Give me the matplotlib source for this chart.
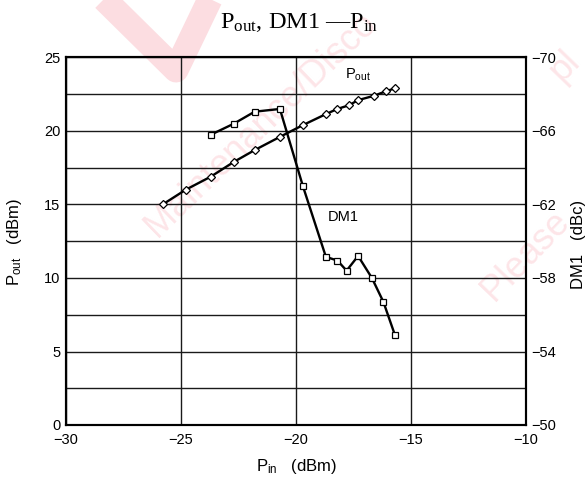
import numpy as np
import matplotlib
matplotlib.use("Agg")
import matplotlib.pyplot as plt
from matplotlib.lines import Line2D

plt.rcParams['font.family'] = ['Liberation Sans', 'DejaVu Sans']
plt.rcParams['mathtext.fontset'] = 'custom'
plt.rcParams['mathtext.rm'] = 'Liberation Serif'
plt.rcParams['mathtext.sf'] = 'Liberation Sans'

# data
pin_pout = [-25.8, -24.8, -23.7, -22.7, -21.8, -20.7, -19.7, -18.7, -18.2,
            -17.7, -17.3, -16.6, -16.1, -15.7]
pout = [15.0, 16.0, 16.9, 17.9, 18.7, 19.6, 20.4, 21.15, 21.5, 21.75,
        22.1, 22.4, 22.7, 22.9]

pin_dm1 = [-23.7, -22.7, -21.8, -20.7, -19.7, -18.7, -18.2, -17.8, -17.3,
           -16.7, -16.2, -15.7]
dm1 = [-65.8, -66.4, -67.05, -67.2, -63.0, -59.15, -58.95, -58.4, -59.2,
       -58.0, -56.7, -54.9]

x_ticks = [-30, -25, -20, -15, -10]
left_ticks = [0, 5, 10, 15, 20, 25]
right_ticks = [-70, -66, -62, -58, -54, -50]

W, H = 586, 483
fig = plt.figure(figsize=(W / 100, H / 100), dpi=100)

# faint watermark behind the chart
wm = '#fde5e8'
fig.add_artist(Line2D(np.array([100, 176, 212]) / W, 1 - np.array([-5, 70, -5]) / H,
                      transform=fig.transFigure, color='#fcdde1', lw=18,
                      solid_joinstyle='round', solid_capstyle='butt', zorder=-2))
fig.text(157 / W, 1 - 238 / H, 'Maintenance/Disco', rotation=44,
         rotation_mode='anchor', ha='left', va='baseline', fontsize=26,
         color=wm, zorder=-2)
fig.text(494 / W, 1 - 302 / H, 'Please', rotation=46, rotation_mode='anchor',
         ha='left', va='baseline', fontsize=26, color=wm, zorder=-2)
fig.text(562 / W, 1 - 82 / H, 'pl', rotation=46, rotation_mode='anchor',
         ha='left', va='baseline', fontsize=26, color=wm, zorder=-2)

ax = fig.add_axes([66 / W, 1 - 425 / H, 460 / W, 367.5 / H])
ax.set_facecolor('none')
ax.set_xlim(-30, -10)
ax.set_ylim(0, 25)
ax.set_xticks(x_ticks)
ax.set_yticks(left_ticks)
ax.set_yticks(np.arange(2.5, 25, 5), minor=True)
ax.xaxis.set_major_formatter(plt.FuncFormatter(lambda v, p: f'{v:.0f}'.replace('-', '\u2212')))
ax.tick_params(length=0, labelsize=10.5, pad=4)
ax.tick_params(axis='x', pad=6)
ax.tick_params(which='minor', length=0)
ax.grid(True, which='both', color='#1a1a1a', lw=1.0)
for s in ax.spines.values():
    s.set_linewidth(1.5)

ax.plot(pin_pout, pout, color='black', lw=1.7, marker='D', ms=3.6,
        mfc='white', mec='black', mew=0.9, zorder=4, clip_on=False)
ax.text(-17.3, 23.8, r'$\mathsf{P_{out}}$', fontsize=10.5, ha='center', va='center')

ax2 = ax.twinx()
ax2.set_ylim(-50, -70)
ax2.set_yticks(right_ticks)
ax2.tick_params(length=0, labelsize=10.5, pad=4)
for s in ax2.spines.values():
    s.set_linewidth(1.5)
ax2.plot(pin_dm1, dm1, color='black', lw=1.7, marker='s', ms=5.0,
         mfc='white', mec='black', mew=0.9, zorder=4)
ax2.text(-17.95, -61.3, 'DM1', fontsize=10.5, ha='center', va='center')

fig.text(299.5 / W, 1 - 23 / H, r'$\mathrm{P_{out}}$, DM1 ' + '\u2014' + r'$\mathrm{P_{in}}$',
         family='Liberation Serif', fontsize=17.5, ha='center', va='center')
fig.text(296 / W, 1 - 466 / H, r'$\mathsf{P_{in}}$   (dBm)', fontsize=12,
         ha='center', va='center')
fig.text(15 / W, 1 - 242 / H, r'$\mathsf{P_{out}}$   (dBm)', fontsize=12,
         rotation=90, ha='center', va='center')
fig.text(578 / W, 1 - 244 / H, 'DM1   (dBc)', fontsize=12,
         rotation=90, ha='center', va='center')

fig.savefig('out.png', dpi=100)
